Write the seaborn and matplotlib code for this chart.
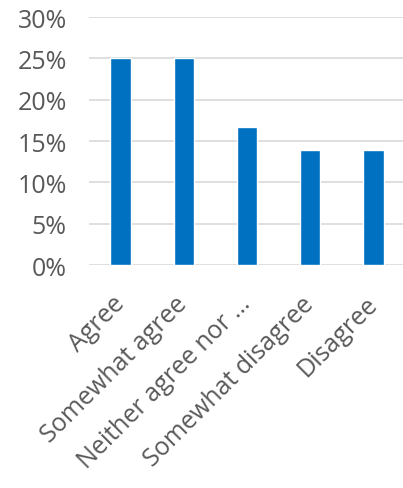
import matplotlib
matplotlib.use("Agg")
import matplotlib.pyplot as plt
import seaborn as sns
import pandas as pd
from matplotlib.ticker import MultipleLocator, FuncFormatter

categories = ["Agree", "Somewhat agree", "Neither agree nor \u2026",
              "Somewhat disagree", "Disagree"]
shares = [25.0, 25.0, 16.67, 13.89, 13.89]

df = pd.DataFrame({"response": categories, "share": shares})

sns.set_theme(style="white")
plt.rcParams["font.family"] = ["Open Sans", "DejaVu Sans"]

fig = plt.figure(figsize=(4.03, 4.89), dpi=100)
ax = fig.add_axes([89 / 403, 0.456, 316 / 403, 0.507])

sns.barplot(data=df, x="response", y="share", color="#0070C0",
            saturation=1, width=0.32, ax=ax)

ax.set_ylim(0, 30)
ax.set_xlim(-0.5, 4.5)
ax.yaxis.set_major_locator(MultipleLocator(5))
ax.yaxis.set_major_formatter(FuncFormatter(lambda v, p: f"{v:.0f}%"))
ax.grid(axis="y", color="#D9D9D9", linewidth=1.2)
ax.set_axisbelow(True)
for s in ax.spines.values():
    s.set_visible(False)
ax.set_xlabel("")
ax.set_ylabel("")
ax.tick_params(axis="y", length=0, pad=16, labelsize=18, labelcolor="#595959")
ax.tick_params(axis="x", length=0, pad=25, labelsize=18, labelcolor="#595959")
for lab in ax.get_xticklabels():
    lab.set_rotation(45)
    lab.set_ha("right")
    lab.set_va("center")
    lab.set_rotation_mode("anchor")

fig.savefig("out.png", dpi=100)
